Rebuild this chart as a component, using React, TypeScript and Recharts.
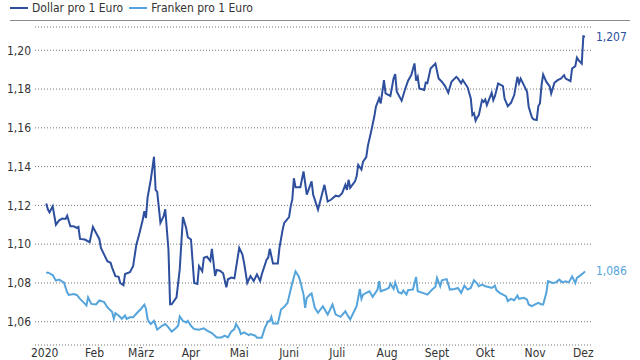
import React from "react"
import { LineChart, Line, XAxis, YAxis, CartesianGrid } from "recharts"

// x = day of year 2020 (0 = 1. Januar)
const usdDays = [
  1, 2, 3, 5, 7, 9, 11, 13, 14, 16, 18, 20, 21, 22, 25, 28, 30, 32, 34, 35, 37, 39, 41, 42, 44, 46, 47, 49, 50, 53,
  55, 57, 59, 61, 62, 63, 64, 66, 68, 69, 70, 72, 74, 75, 77, 78, 79, 82, 84, 86, 88, 89, 91, 93, 95, 96, 98, 99, 101, 103,
  104, 106, 107, 109, 111, 113, 114, 116, 118, 121, 123, 124, 126, 128, 130, 132, 134, 135, 138, 139, 140, 142, 145, 146, 148, 149, 152, 153, 154, 155,
  156, 159, 161, 163, 166, 167, 168, 170, 174, 176, 178, 181, 183, 185, 187, 188, 189, 190, 193, 194, 195, 197, 198, 200, 201, 203, 205, 206, 208, 209,
  211, 212, 215, 217, 218, 219, 222, 224, 226, 228, 230, 231, 232, 233, 236, 237, 238, 240, 243, 245, 247, 249, 251, 253, 256, 257, 259, 260, 263, 265,
  266, 267, 268, 269, 270, 272, 273, 274, 275, 277, 278, 279, 280, 282, 285, 286, 288, 290, 292, 294, 295, 296, 298, 300, 301, 303, 304, 306, 307, 308,
  309, 310, 312, 314, 315, 317, 319, 321, 322, 323, 324, 327, 328, 330, 331, 332, 334, 335, 336,
]
const usdValues = [
  1.121, 1.118, 1.1164, 1.1195, 1.110, 1.1123, 1.1132, 1.113, 1.1147, 1.1092, 1.1092, 1.1084, 1.1089, 1.1027, 1.1024, 1.101, 1.1089, 1.1058, 1.1027, 1.098,
  1.0946, 1.0912, 1.0904, 1.0878, 1.0835, 1.0832, 1.080, 1.0788, 1.0846, 1.0855,
  1.0886, 1.0996, 1.1058, 1.1126, 1.117, 1.1135, 1.124, 1.1332, 1.1451, 1.128, 1.127, 1.111, 1.1144, 1.118, 1.097, 1.069, 1.069, 1.0726, 1.087, 1.114,
  1.1084, 1.1036, 1.1024, 1.080, 1.0795, 1.0887, 1.086, 1.093, 1.0935, 1.0913,
  1.0976, 1.0836, 1.0867, 1.0863, 1.085, 1.0778, 1.0819, 1.0828, 1.0824, 1.0981, 1.0947, 1.0904, 1.080, 1.0836, 1.081, 1.0844, 1.081, 1.0844, 1.092, 1.093,
  1.0976, 1.090, 1.090, 1.098, 1.1075, 1.111, 1.114, 1.1195, 1.123, 1.134,
  1.1294, 1.1294, 1.1375, 1.1255, 1.1324, 1.1255, 1.123, 1.1178, 1.1306, 1.122, 1.1229, 1.125, 1.1246, 1.1263, 1.1306, 1.128, 1.1332, 1.129, 1.1324, 1.135,
  1.1409, 1.1385, 1.1426, 1.1449, 1.1507, 1.158, 1.1658, 1.1709, 1.1752, 1.1726,
  1.1846, 1.1778, 1.1764, 1.1855, 1.1877, 1.1786, 1.174, 1.1795, 1.1843, 1.1872, 1.1932, 1.1843, 1.1863, 1.1803, 1.1795, 1.1833, 1.183, 1.1906, 1.1932, 1.1855,
  1.1838, 1.1815, 1.1781, 1.1838, 1.1863, 1.1855, 1.183, 1.1847, 1.1809, 1.1752,
  1.1666, 1.1675, 1.1637, 1.1654, 1.1666, 1.1743, 1.1734, 1.1746, 1.1717, 1.176, 1.1781, 1.1743, 1.1763, 1.1829, 1.1815, 1.1751, 1.1712, 1.1729, 1.1769, 1.1863,
  1.1829, 1.1854, 1.182, 1.1786, 1.1709, 1.1654, 1.1644, 1.164, 1.1712, 1.1726,
  1.182, 1.1875, 1.1837, 1.1815, 1.1777, 1.1832, 1.1846, 1.1854, 1.1863, 1.1871, 1.1854, 1.1841, 1.1906, 1.1918, 1.1962, 1.1949, 1.1931, 1.2072, 1.207,
]

const chfDays = [
  1, 2, 5, 7, 9, 11, 12, 14, 15, 18, 20, 22, 24, 26, 27, 29, 32, 34, 37, 39, 42, 43, 44, 46, 48, 50, 51, 53, 55, 58,
  60, 62, 63, 64, 65, 66, 68, 70, 73, 75, 77, 79, 81, 83, 84, 86, 88, 89, 91, 93, 96, 99, 101, 104, 107, 110, 112, 114, 116, 118,
  119, 121, 122, 124, 127, 128, 131, 132, 135, 137, 139, 140, 141, 142, 145, 147, 149, 151, 154, 156, 158, 159, 161, 162, 163, 165, 166, 168, 170, 173,
  176, 179, 181, 184, 187, 189, 190, 192, 194, 196, 197, 198, 200, 202, 204, 207, 208, 209, 212, 214, 215, 217, 218, 220, 222, 223, 225, 226, 229, 231,
  232, 236, 238, 241, 243, 244, 246, 247, 250, 252, 255, 257, 259, 261, 263, 265, 267, 269, 270, 272, 274, 276, 278, 280, 281, 283, 285, 287, 288, 290,
  292, 294, 295, 298, 300, 301, 303, 305, 307, 309, 310, 312, 313, 316, 318, 320, 322, 324, 326, 328, 330, 331, 333, 335, 336,
]
const chfValues = [
  1.0851, 1.0854, 1.0841, 1.0812, 1.0817, 1.0807, 1.0803, 1.0752, 1.0738, 1.0743, 1.0738, 1.0718, 1.0701, 1.0684, 1.0726, 1.0692, 1.0689, 1.071, 1.0701, 1.0675,
  1.065, 1.0615, 1.0644, 1.0632, 1.0615, 1.0632, 1.0615, 1.0623, 1.0623, 1.065,
  1.0667, 1.0688, 1.0667, 1.0615, 1.0598, 1.0588, 1.0605, 1.0559, 1.0579, 1.0588, 1.0571, 1.0549, 1.0562, 1.0579, 1.0627, 1.0605, 1.0596, 1.0605, 1.0579, 1.0562,
  1.0559, 1.0566, 1.0554, 1.0542, 1.0519, 1.0519, 1.0528, 1.0519, 1.0549, 1.0562,
  1.0588, 1.0562, 1.0536, 1.0545, 1.0531, 1.0536, 1.0528, 1.0518, 1.0518, 1.0569, 1.0603, 1.0603, 1.0625, 1.0591, 1.0591, 1.0663, 1.0677, 1.0697, 1.080, 1.086,
  1.0834, 1.0808, 1.074, 1.0672, 1.0723, 1.074, 1.0746, 1.0672, 1.0646, 1.068,
  1.0637, 1.0689, 1.0637, 1.0625, 1.0654, 1.0625, 1.0612, 1.0646, 1.068, 1.0769, 1.0718, 1.074, 1.0749, 1.0757, 1.0728, 1.0766, 1.0809, 1.0757, 1.0766, 1.0774,
  1.0797, 1.0769, 1.0803, 1.0752, 1.0746, 1.0761, 1.074, 1.0763, 1.0766, 1.0831,
  1.0757, 1.0746, 1.074, 1.0766, 1.078, 1.0826, 1.0783, 1.0814, 1.082, 1.0766, 1.0769, 1.0774, 1.0749, 1.0786, 1.0766, 1.0774, 1.0814, 1.0797, 1.0783, 1.0791,
  1.0783, 1.0779, 1.0774, 1.0786, 1.0762, 1.0749, 1.074, 1.0731, 1.0706, 1.0718,
  1.0711, 1.0735, 1.0718, 1.0723, 1.0714, 1.0689, 1.068, 1.0689, 1.0697, 1.0689, 1.0689, 1.0749, 1.0809, 1.08, 1.0803, 1.0817, 1.0803, 1.0809, 1.0803, 1.0834,
  1.08, 1.0826, 1.0838, 1.0851, 1.086,
]

const monthTicks = [0, 31, 60, 91, 121, 152, 182, 213, 244, 274, 305, 335]
const monthLabels = ["2020", "Feb", "März", "Apr", "Mai", "Juni", "Juli", "Aug", "Sept", "Okt", "Nov", "Dez"]
const yTicks = [1.06, 1.08, 1.1, 1.12, 1.14, 1.16, 1.18, 1.2]

const usdData = usdDays.map((day, i) => ({ day, value: usdValues[i] }))
const chfData = chfDays.map((day, i) => ({ day, value: chfValues[i] }))

const DARK = "#2d4f9e"
const LIGHT = "#55a5dc"
const FONT = "'Liberation Sans Narrow', 'DejaVu Sans Condensed', sans-serif"

const fmt = (v: number, d: number) => v.toFixed(d).replace(".", ",")

const endLabel = (color: string, count: number) => (props: any) => {
  if (props.index !== count - 1) return null
  return (
    <text x={props.x + 11} y={props.y + 4} fill={color} fontSize={12} fontFamily={FONT}>
      {fmt(props.value, 3)}
    </text>
  )
}

const App: React.FC = () => {
  return (
    <div style={{ position: "absolute", left: 0, top: 0, width: 640, height: 360, background: "#fff", fontFamily: FONT }}>
      <div style={{ position: "absolute", left: 10, top: 0, height: 16, display: "flex", alignItems: "center", fontSize: 12, color: "#333" }}>
        <span style={{ display: "inline-block", width: 18, height: 2, background: DARK, marginRight: 4 }} />
        <span style={{ marginRight: 6 }}>Dollar pro 1 Euro</span>
        <span style={{ display: "inline-block", width: 18, height: 2, background: LIGHT, marginRight: 4 }} />
        <span>Franken pro 1 Euro</span>
      </div>
      <div style={{ position: "absolute", left: 10, top: 20, width: 620, height: 0, borderTop: "1px solid #8a8a8a" }} />
      <LineChart width={640} height={360} margin={{ top: 27, right: 47, bottom: 0, left: 0 }}>
        <CartesianGrid vertical={false} stroke="#777" strokeDasharray="1 2" />
        <XAxis
          type="number"
          dataKey="day"
          domain={[-6, 341]}
          ticks={monthTicks}
          tickFormatter={(d: number) => monthLabels[monthTicks.indexOf(d)]}
          axisLine={false}
          tickLine={false}
          tickSize={0}
          tickMargin={3}
          height={15}
          allowDuplicatedCategory={false}
          tick={{ fill: "#333", fontSize: 12, fontFamily: FONT }}
          interval={0}
        />
        <YAxis
          type="number"
          domain={[1.048, 1.212]}
          ticks={yTicks}
          width={35}
          axisLine={false}
          tickLine={false}
          tickSize={0}
          tickMargin={4}
          tickFormatter={(v: number) => fmt(v, 2)}
          tick={{ fill: "#333", fontSize: 12, fontFamily: FONT }}
        />
        <Line
          data={chfData}
          dataKey="value"
          type="linear"
          stroke={LIGHT}
          strokeWidth={2}
          dot={false}
          isAnimationActive={false}
          label={endLabel(LIGHT, chfData.length)}
        />
        <Line
          data={usdData}
          dataKey="value"
          type="linear"
          stroke={DARK}
          strokeWidth={2}
          dot={false}
          isAnimationActive={false}
          label={endLabel(DARK, usdData.length)}
        />
      </LineChart>
    </div>
  )
}

export default App
